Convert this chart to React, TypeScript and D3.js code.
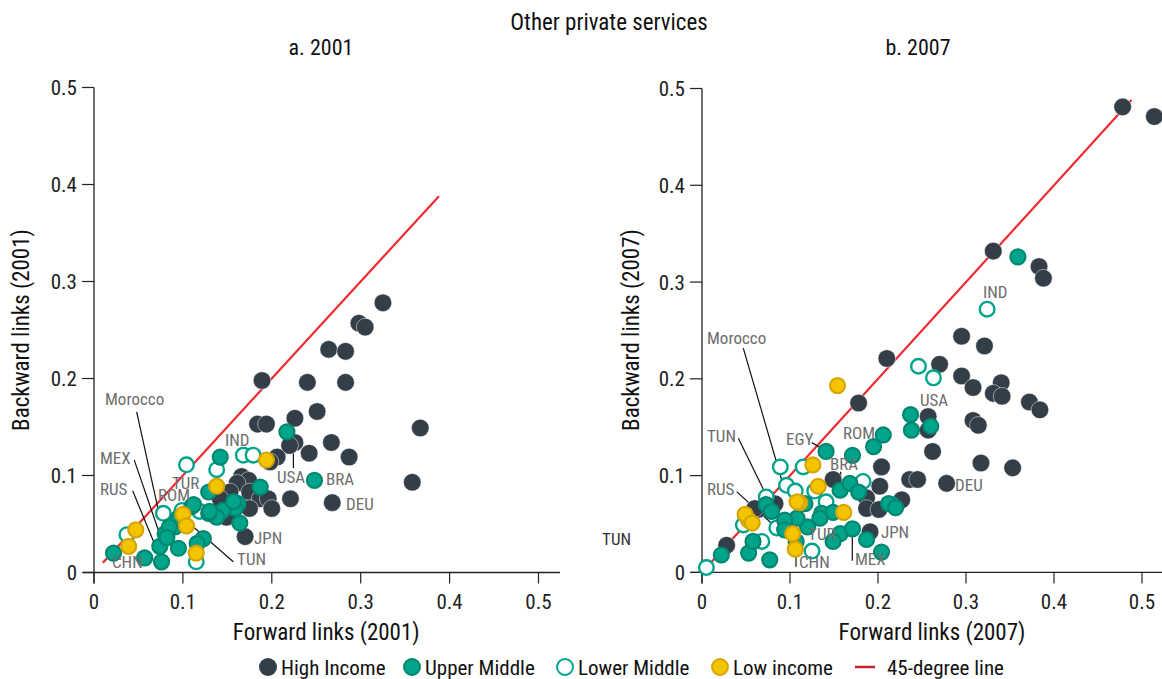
import React from "react";
import * as d3 from "d3";

type P = [number, number];

// ---------- DATA: 2001 ----------
const high2001: P[] = [
  [0.325, 0.278], [0.298, 0.257], [0.305, 0.253], [0.264, 0.23], [0.283, 0.228],
  [0.189, 0.198], [0.24, 0.196], [0.283, 0.196], [0.251, 0.166], [0.184, 0.153],
  [0.194, 0.153], [0.226, 0.159], [0.367, 0.149], [0.226, 0.134], [0.22, 0.131],
  [0.267, 0.134], [0.206, 0.119], [0.242, 0.123], [0.287, 0.119], [0.358, 0.093],
  [0.221, 0.076], [0.268, 0.072], [0.17, 0.037], [0.166, 0.099], [0.174, 0.095],
  [0.161, 0.092], [0.153, 0.083], [0.142, 0.076], [0.175, 0.083], [0.187, 0.076],
  [0.196, 0.076], [0.2, 0.066], [0.175, 0.066], [0.149, 0.057], [0.198, 0.114],
];
const upper2001: P[] = [
  [0.022, 0.02], [0.057, 0.015], [0.076, 0.011], [0.074, 0.027], [0.08, 0.04],
  [0.095, 0.025], [0.091, 0.047], [0.142, 0.119], [0.129, 0.083], [0.187, 0.088],
  [0.11, 0.068], [0.123, 0.035], [0.116, 0.03], [0.095, 0.056], [0.162, 0.071],
  [0.159, 0.066], [0.145, 0.064], [0.138, 0.057], [0.129, 0.061], [0.164, 0.051],
  [0.217, 0.145], [0.248, 0.095], [0.13, 0.063], [0.085, 0.047], [0.157, 0.073],
  [0.082, 0.036], [0.112, 0.07],
];
const lower2001: P[] = [
  [0.037, 0.039], [0.078, 0.061], [0.104, 0.111], [0.138, 0.106], [0.168, 0.121],
  [0.179, 0.121], [0.099, 0.064], [0.119, 0.063], [0.115, 0.011],
];
const low2001: P[] = [
  [0.039, 0.027], [0.047, 0.044], [0.1, 0.06], [0.104, 0.048], [0.115, 0.02],
  [0.138, 0.089], [0.194, 0.116],
];

// ---------- DATA: 2007 ----------
const high2007: P[] = [
  [0.478, 0.481], [0.514, 0.471], [0.331, 0.332], [0.383, 0.316], [0.388, 0.304],
  [0.295, 0.244], [0.321, 0.234], [0.21, 0.221], [0.27, 0.215], [0.295, 0.203],
  [0.308, 0.191], [0.34, 0.196], [0.331, 0.185], [0.341, 0.182], [0.372, 0.176],
  [0.384, 0.168], [0.178, 0.175], [0.257, 0.161], [0.257, 0.147], [0.308, 0.157],
  [0.314, 0.152], [0.262, 0.125], [0.317, 0.113], [0.353, 0.108], [0.204, 0.109],
  [0.236, 0.096], [0.245, 0.096], [0.278, 0.092], [0.202, 0.089], [0.149, 0.096],
  [0.187, 0.077], [0.187, 0.066], [0.201, 0.065], [0.227, 0.075], [0.191, 0.042],
  [0.028, 0.028], [0.064, 0.065], [0.083, 0.071], [0.06, 0.066],
];
const upper2007: P[] = [
  [0.022, 0.018], [0.053, 0.02], [0.058, 0.032], [0.077, 0.013], [0.073, 0.07],
  [0.141, 0.125], [0.171, 0.121], [0.195, 0.13], [0.206, 0.142], [0.157, 0.085],
  [0.168, 0.092], [0.178, 0.083], [0.117, 0.071], [0.136, 0.061], [0.149, 0.062],
  [0.12, 0.047], [0.108, 0.056], [0.094, 0.054], [0.094, 0.044], [0.107, 0.032],
  [0.157, 0.04], [0.171, 0.045], [0.149, 0.032], [0.187, 0.034], [0.204, 0.021],
  [0.212, 0.071], [0.237, 0.163], [0.238, 0.147], [0.26, 0.151], [0.359, 0.326],
  [0.22, 0.067], [0.079, 0.063], [0.134, 0.056],
];
const lower2007: P[] = [
  [0.005, 0.005], [0.068, 0.032], [0.047, 0.049], [0.073, 0.078], [0.089, 0.109],
  [0.096, 0.09], [0.106, 0.084], [0.115, 0.109], [0.183, 0.094], [0.128, 0.084],
  [0.141, 0.073], [0.085, 0.046], [0.125, 0.022], [0.216, 0.07], [0.324, 0.272],
  [0.246, 0.213], [0.263, 0.201],
];
const low2007: P[] = [
  [0.053, 0.054], [0.049, 0.06], [0.057, 0.051], [0.126, 0.111], [0.154, 0.193],
  [0.132, 0.089], [0.111, 0.072], [0.161, 0.062], [0.103, 0.04], [0.106, 0.024],
  [0.108, 0.073],
];

// 45-degree line extents
const line2001: number[] = [0.01, 0.388];
const line2007: number[] = [0.003, 0.488];

// ticks
const ticks: number[] = [0, 0.1, 0.2, 0.3, 0.4, 0.5];

// annotations in data units
type Ann = { t: string; x: number; y: number; l?: [number, number, number, number] };
const ann2001: Ann[] = [
  { t: "Morocco", x: 0.0124, y: 0.1725, l: [0.048, 0.1656, 0.0723, 0.0644] },
  { t: "MEX", x: 0.0067, y: 0.1117, l: [0.0453, 0.1159, 0.0723, 0.0438] },
  { t: "RUS", x: 0.0067, y: 0.0798, l: [0.0435, 0.0842, 0.0686, 0.0283] },
  { t: "ROM", x: 0.072, y: 0.0736 },
  { t: "TUR", x: 0.0877, y: 0.086 },
  { t: "IND", x: 0.1474, y: 0.1303 },
  { t: "USA", x: 0.2058, y: 0.0922, l: [0.2243, 0.1262, 0.2243, 0.1076] },
  { t: "BRA", x: 0.261, y: 0.0901 },
  { t: "DEU", x: 0.2835, y: 0.0644 },
  { t: "JPN", x: 0.18, y: 0.0294 },
  { t: "TUN", x: 0.1609, y: 0.0077, l: [0.1099, 0.0484, 0.1567, 0.0111] },
  { t: "CHN", x: 0.0202, y: 0.0046 },
];
const ann2007: Ann[] = [
  { t: "Morocco", x: 0.0057, y: 0.2362, l: [0.0469, 0.2317, 0.0906, 0.0955] },
  { t: "TUN", x: 0.0057, y: 0.1348, l: [0.0413, 0.1387, 0.0867, 0.0542] },
  { t: "RUS", x: 0.0057, y: 0.08, l: [0.0394, 0.0835, 0.0906, 0.0411] },
  { t: "EGY", x: 0.0955, y: 0.1317, l: [0.1247, 0.1341, 0.136, 0.1283] },
  { t: "ROM", x: 0.1602, y: 0.138 },
  { t: "BRA", x: 0.1455, y: 0.1059, l: [0.1576, 0.1041, 0.1576, 0.0886] },
  { t: "TUR", x: 0.1205, y: 0.0335 },
  { t: "CHN", x: 0.1102, y: 0.0045, l: [0.1068, 0.0266, 0.1068, 0.0059] },
  { t: "MEX", x: 0.1739, y: 0.0077, l: [0.1708, 0.0387, 0.1708, 0.0121] },
  { t: "JPN", x: 0.2034, y: 0.0356 },
  { t: "USA", x: 0.2477, y: 0.1721 },
  { t: "IND", x: 0.3193, y: 0.2838 },
  { t: "DEU", x: 0.2875, y: 0.0842 },
];
const strayLabel: Ann = { t: "TUN", x: -0.1136, y: 0.0283 };

const legendItems: string[] = ["High Income", "Upper Middle", "Lower Middle", "Low income", "45-degree line"];

// ---------- STYLE ----------
const FONT = "'Roboto Condensed', 'Liberation Sans Narrow', 'Arial Narrow', 'DejaVu Sans Condensed', sans-serif";
const C_HIGH = "#333e48";
const C_TEAL = "#00a48b";
const C_TEAL_D = "#00876f";
const C_YEL = "#f5c400";
const C_YEL_D = "#d6a600";
const C_RED = "#ee2a32";
const R = 8.5;

function Dots({ pts, kind, x, y }: { pts: P[]; kind: string; x: any; y: any }) {
  return (
    <g>
      {pts.map((p, i) => {
        const cx = x(p[0]);
        const cy = y(p[1]);
        if (kind === "high")
          return <circle key={i} cx={cx} cy={cy} r={R + 0.3} fill={C_HIGH} stroke="#ffffff" strokeOpacity={0.6} strokeWidth={0.8} />;
        if (kind === "upper")
          return <circle key={i} cx={cx} cy={cy} r={R - 1} fill={C_TEAL} stroke={C_TEAL_D} strokeWidth={2.2} />;
        if (kind === "lower")
          return <circle key={i} cx={cx} cy={cy} r={R - 1.2} fill="#ffffff" stroke={C_TEAL} strokeWidth={2.4} />;
        return <circle key={i} cx={cx} cy={cy} r={R - 1} fill={C_YEL} stroke={C_YEL_D} strokeWidth={2.2} />;
      })}
    </g>
  );
}

function Panel(props: {
  x0: number; x1: number; y0: number; y1: number; axisEnd: number;
  high: P[]; upper: P[]; lower: P[]; low: P[]; line: number[]; ann: Ann[];
  xlabel: string; ylabel: string; ylabelX: number; sub: string; subX: number;
  extra?: Ann;
}) {
  const x = d3.scaleLinear().domain([0, 0.5]).range([props.x0, props.x1]);
  const y = d3.scaleLinear().domain([0, 0.5]).range([props.y0, props.y1]);
  const fmt = (v: number) => (v === 0 ? "0" : d3.format(".1f")(v));
  const ax = x(0);
  const ay = y(0);
  return (
    <g fontFamily={FONT}>
      <text x={props.subX} y={55} textAnchor="middle" fontSize={22} fill="#111">{props.sub}</text>
      {/* axes */}
      <line x1={ax} x2={ax} y1={y(0.5)} y2={ay + 11} stroke="#222" strokeWidth={1.3} />
      <line x1={ax - 11} x2={props.axisEnd} y1={ay} y2={ay} stroke="#222" strokeWidth={1.3} />
      {ticks.map((t) => (
        <g key={"y" + t}>
          <line x1={ax - 12} x2={ax} y1={y(t)} y2={y(t)} stroke="#222" strokeWidth={1.2} />
          <text x={ax - 17} y={y(t) + 7.5} textAnchor="end" fontSize={21} fill="#222">{fmt(t)}</text>
        </g>
      ))}
      {ticks.map((t) => (
        <g key={"x" + t}>
          <line x1={x(t)} x2={x(t)} y1={ay} y2={ay + 11} stroke="#222" strokeWidth={1.2} />
          <text x={x(t)} y={609} textAnchor="middle" fontSize={21} fill="#222">{fmt(t)}</text>
        </g>
      ))}
      <text x={(props.x0 + props.x1) / 2 + 10} y={640} textAnchor="middle" fontSize={23} fill="#111">{props.xlabel}</text>
      <text transform={`translate(${props.ylabelX},${330}) rotate(-90)`} textAnchor="middle" fontSize={23} fill="#111">{props.ylabel}</text>
      {/* 45-degree line */}
      <line x1={x(props.line[0])} y1={y(props.line[0])} x2={x(props.line[1])} y2={y(props.line[1])} stroke={C_RED} strokeWidth={2.2} />
      {/* leaders */}
      {props.ann.filter((a) => a.l).map((a, i) => (
        <line key={i} x1={x(a.l![0])} y1={y(a.l![1])} x2={x(a.l![2])} y2={y(a.l![3])} stroke="#111" strokeWidth={1.2} />
      ))}
      <Dots pts={props.high} kind="high" x={x} y={y} />
      <Dots pts={props.lower} kind="lower" x={x} y={y} />
      <Dots pts={props.upper} kind="upper" x={x} y={y} />
      <Dots pts={props.low} kind="low" x={x} y={y} />
      {props.ann.map((a, i) => (
        <text key={i} x={x(a.x)} y={y(a.y)} fontSize={17} fill="#6e6e6e">{a.t}</text>
      ))}
      {props.extra && (
        <text x={x(props.extra.x)} y={y(props.extra.y)} fontSize={17} fill="#333">{props.extra.t}</text>
      )}
    </g>
  );
}

export default function App() {
  const legendX = [268, 412, 565, 720, 855];
  return (
    <svg width={1162} height={679} style={{ position: "absolute", left: 0, top: 0, background: "#fff" }}>
      <rect width={1162} height={679} fill="#fff" />
      <text x={609} y={30} textAnchor="middle" fontSize={23} fontFamily={FONT} fill="#111">Other private services</text>
      <Panel x0={94} x1={538.5} y0={572.5} y1={87.5} axisEnd={560}
        high={high2001} upper={upper2001} lower={lower2001} low={low2001} line={line2001} ann={ann2001}
        xlabel="Forward links (2001)" ylabel="Backward links (2001)" ylabelX={29} sub="a. 2001" subX={321} />
      <Panel x0={702} x1={1142} y0={572.4} y1={88.5} axisEnd={1162}
        high={high2007} upper={upper2007} lower={lower2007} low={low2007} line={line2007} ann={ann2007}
        xlabel="Forward links (2007)" ylabel="Backward links (2007)" ylabelX={639} sub="b. 2007" subX={918}
        extra={strayLabel} />
      {/* legend */}
      <g fontFamily={FONT} fontSize={21} fill="#111">
        <circle cx={legendX[0]} cy={667} r={9} fill={C_HIGH} />
        <circle cx={legendX[1]} cy={667} r={8} fill={C_TEAL} stroke={C_TEAL_D} strokeWidth={2} />
        <circle cx={legendX[2]} cy={667} r={8} fill="#fff" stroke={C_TEAL} strokeWidth={2} />
        <circle cx={legendX[3]} cy={667} r={8} fill={C_YEL} stroke={C_YEL_D} strokeWidth={2} />
        <line x1={legendX[4]} x2={legendX[4] + 20} y1={667} y2={667} stroke="#c8232c" strokeWidth={2.5} />
        {legendItems.map((t, i) => (
          <text key={t} x={legendX[i] + (i === 4 ? 32 : 13)} y={674.5}>{t}</text>
        ))}
      </g>
    </svg>
  );
}
